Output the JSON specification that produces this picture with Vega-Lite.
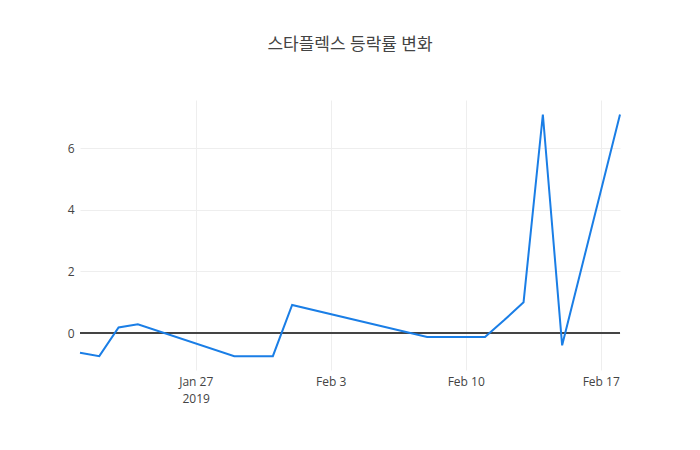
{
  "$schema": "https://vega.github.io/schema/vega-lite/v6.json",
  "width": 540,
  "height": 270,
  "autosize": {"type": "none"},
  "padding": {"left": 80, "top": 100, "right": 80, "bottom": 80},
  "background": "white",
  "title": {
    "text": "스타플렉스 등락률 변화",
    "font": "Open Sans, Noto Sans CJK KR",
    "fontSize": 17,
    "fontWeight": "normal",
    "color": "#444",
    "anchor": "middle",
    "frame": "group",
    "offset": 46
  },
  "config": {
    "view": {"stroke": null},
    "axis": {"labelFont": "Open Sans", "labelFontSize": 12, "labelColor": "#444", "gridColor": "#eee", "domain": false, "ticks": false, "title": null, "grid": true}
  },
  "data": {
    "values": [
      {"date": "2019-01-21", "rate": -0.64},
      {"date": "2019-01-22", "rate": -0.75},
      {"date": "2019-01-23", "rate": 0.18},
      {"date": "2019-01-24", "rate": 0.28},
      {"date": "2019-01-29", "rate": -0.75},
      {"date": "2019-01-31", "rate": -0.75},
      {"date": "2019-02-01", "rate": 0.91},
      {"date": "2019-02-08", "rate": -0.13},
      {"date": "2019-02-11", "rate": -0.13},
      {"date": "2019-02-12", "rate": 0.42},
      {"date": "2019-02-13", "rate": 1.0},
      {"date": "2019-02-14", "rate": 7.09},
      {"date": "2019-02-15", "rate": -0.4},
      {"date": "2019-02-18", "rate": 7.09}
    ]
  },
  "layer": [
    {
      "mark": {"type": "rule", "color": "#444", "strokeWidth": 1},
      "encoding": {
        "y": {
          "datum": 0,
          "type": "quantitative",
          "scale": {"domain": [-1.2, 7.56], "nice": false, "zero": false},
          "axis": {"values": [0, 2, 4, 6], "labelPadding": 6, "grid": true}
        }
      }
    },
    {
      "mark": {"type": "line", "color": "#1a7ee6", "strokeWidth": 2},
      "encoding": {
        "x": {
          "field": "date",
          "type": "temporal",
          "scale": {"type": "utc", "domain": [{"year": 2019, "month": 1, "date": 21, "utc": true}, {"year": 2019, "month": 2, "date": 18, "utc": true}], "nice": false},
          "axis": {
            "values": [
              {"year": 2019, "month": 1, "date": 27, "utc": true},
              {"year": 2019, "month": 2, "date": 3, "utc": true},
              {"year": 2019, "month": 2, "date": 10, "utc": true},
              {"year": 2019, "month": 2, "date": 17, "utc": true}
            ],
            "labelExpr": "utcmonth(datum.value) == 0 ? [utcFormat(datum.value, '%b %-d'), '2019'] : utcFormat(datum.value, '%b %-d')",
            "labelPadding": 6,
            "labelLineHeight": 17,
            "grid": true
          }
        },
        "y": {
          "field": "rate",
          "type": "quantitative",
          "scale": {"domain": [-1.2, 7.56], "nice": false, "zero": false},
          "axis": {"values": [0, 2, 4, 6], "labelPadding": 6, "grid": true}
        }
      }
    }
  ]
}
